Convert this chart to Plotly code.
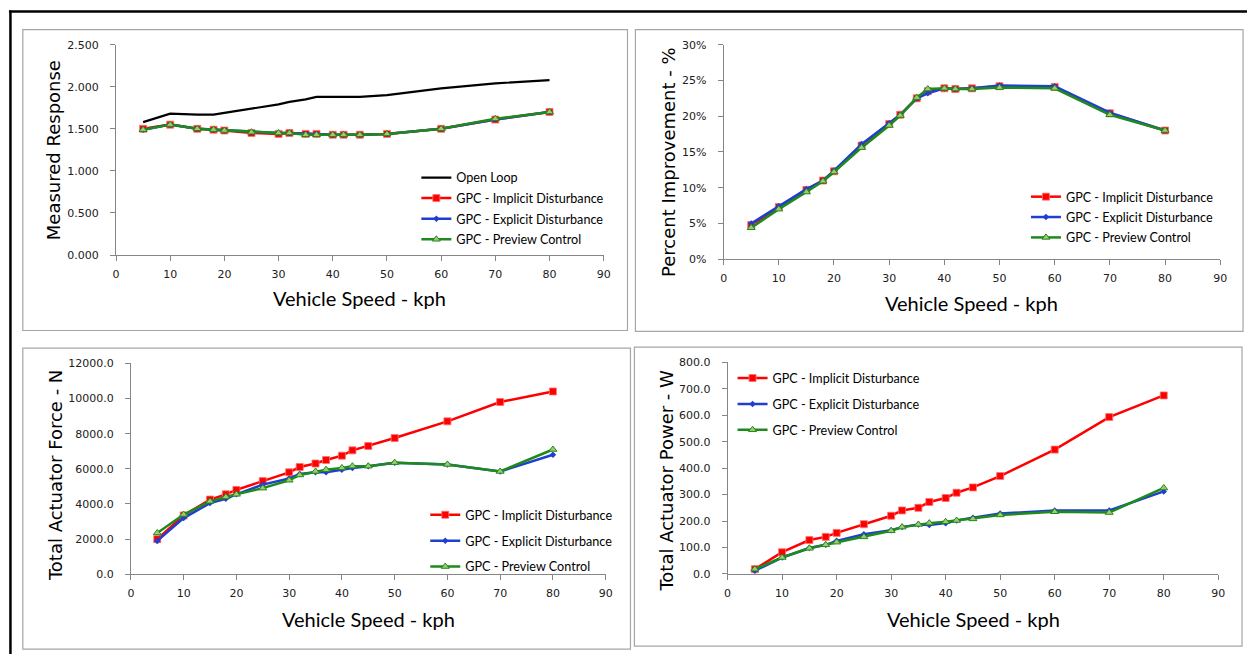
import plotly.graph_objects as go

W, H = 1254, 661

# ---------------- data ----------------
speed = [5, 10, 15, 18, 20, 25, 30, 32, 35, 37, 40, 42, 45, 50, 60, 70, 80]

resp_open = [1.58, 1.68, 1.67, 1.67, 1.69, 1.74, 1.79, 1.82, 1.85, 1.88, 1.88, 1.88, 1.88, 1.90, 1.98, 2.04, 2.08]
resp_implicit = [1.50, 1.55, 1.50, 1.49, 1.48, 1.45, 1.44, 1.45, 1.44, 1.44, 1.43, 1.43, 1.43, 1.44, 1.50, 1.61, 1.70]
resp_explicit = [1.49, 1.55, 1.50, 1.49, 1.48, 1.46, 1.45, 1.45, 1.44, 1.44, 1.43, 1.43, 1.43, 1.44, 1.50, 1.61, 1.70]
resp_preview = [1.49, 1.55, 1.50, 1.49, 1.48, 1.46, 1.45, 1.45, 1.43, 1.43, 1.43, 1.43, 1.43, 1.44, 1.50, 1.62, 1.70]

impr_implicit = [4.8, 7.3, 9.7, 11.0, 12.3, 15.9, 18.9, 20.2, 22.5, 23.5, 23.9, 23.8, 23.9, 24.2, 24.1, 20.4, 18.0]
impr_explicit = [5.0, 7.4, 9.8, 11.0, 12.4, 16.1, 19.0, 20.2, 22.5, 23.2, 23.9, 23.8, 23.9, 24.3, 24.2, 20.5, 18.0]
impr_preview = [4.4, 7.0, 9.4, 10.9, 12.2, 15.6, 18.7, 20.1, 22.6, 23.8, 23.9, 23.8, 23.8, 24.0, 23.9, 20.2, 18.0]

force_implicit = [2000, 3350, 4250, 4550, 4800, 5300, 5800, 6100, 6300, 6500, 6750, 7050, 7300, 7750, 8700, 9800, 10400]
force_explicit = [1900, 3200, 4050, 4300, 4550, 5100, 5450, 5700, 5800, 5800, 5950, 6050, 6150, 6350, 6250, 5850, 6800]
force_preview = [2350, 3400, 4150, 4400, 4550, 4900, 5350, 5650, 5850, 5950, 6050, 6150, 6150, 6350, 6250, 5850, 7100]

power_implicit = [18, 82, 128, 140, 155, 188, 220, 240, 250, 272, 287, 307, 327, 370, 470, 593, 675]
power_explicit = [12, 62, 98, 110, 125, 150, 165, 177, 187, 185, 192, 202, 212, 228, 240, 240, 312]
power_preview = [18, 62, 97, 110, 120, 140, 163, 177, 187, 192, 197, 202, 208, 223, 235, 232, 325]

name_open = "Open Loop"
name_implicit = "GPC - Implicit Disturbance"
name_explicit = "GPC - Explicit Disturbance"
name_preview = "GPC - Preview Control"

x_title = "Vehicle Speed - kph"
y_titles = ["Measured Response", "Percent Improvement - %", "Total Actuator Force - N", "Total Actuator Power - W"]

# ---------------- styles ----------------
RED, BLUE, GREEN = "#FF0000", "#1F3FD0", "#1E8A1E"
AXIS_COL = "#868686"
TICK_FONT = dict(family="DejaVu Sans", size=11, color="#202020")
TITLE_FONT_Y = dict(family="DejaVu Sans", size=18, color="#000000")
TITLE_FONT_X = dict(family="Lato", size=20, color="#000000")
LEG_FONT = dict(family="Lato", size=12.6, color="#000000")


def fx(p):
    return p / W


def fy(p):
    return 1 - p / H


styles = {
    "open": dict(line=dict(color="#000000", width=2.2), mode="lines"),
    "implicit": dict(line=dict(color=RED, width=2.5), mode="lines+markers",
                     marker=dict(symbol="square", size=7, color=RED, line=dict(color="#FF7070", width=0.8))),
    "explicit": dict(line=dict(color=BLUE, width=2.5), mode="lines+markers",
                     marker=dict(symbol="diamond", size=5, color=BLUE)),
    "preview": dict(line=dict(color=GREEN, width=2.5), mode="lines+markers",
                    marker=dict(symbol="triangle-up", size=7, color="#A3C86E", line=dict(color=GREEN, width=1))),
}

# panels: plot-area pixel boxes (left, right, top, bottom)
panels = [
    dict(box=(113, 605, 39.5, 254), yr=[0, 2.5], dtick=0.5, fmt=".3f", suffix="",
         series=[("open", name_open, resp_open), ("implicit", name_implicit, resp_implicit),
                 ("explicit", name_explicit, resp_explicit), ("preview", name_preview, resp_preview)],
         leg=(416, 160, 1.2), ytitle=(50, 147.5), xtitle=(359, 298)),
    dict(box=(726, 1227, 39.5, 258.3), yr=[0, 30], dtick=5, fmt="d", suffix="%",
         series=[("implicit", name_implicit, impr_implicit), ("explicit", name_explicit, impr_explicit),
                 ("preview", name_preview, impr_preview)],
         leg=(1031, 179.5, 1.0), ytitle=(671, 159), xtitle=(976, 303)),
    dict(box=(128, 607, 364.5, 579.7), yr=[0, 12000], dtick=2000, fmt=".1f", suffix="",
         series=[("implicit", name_implicit, force_implicit), ("explicit", name_explicit, force_explicit),
                 ("preview", name_preview, force_preview)],
         leg=(425, 504, 6.5), ytitle=(52, 479), xtitle=(368, 625)),
    dict(box=(730, 1225, 363.5, 579.3), yr=[0, 800], dtick=100, fmt=".1f", suffix="",
         series=[("implicit", name_implicit, power_implicit), ("explicit", name_explicit, power_explicit),
                 ("preview", name_preview, power_preview)],
         leg=(735, 364.5, 6.5), ytitle=(668, 484), xtitle=(978, 625)),
]

fig = go.Figure()
annotations = []
layout_axes = {}

for i, p in enumerate(panels):
    k = "" if i == 0 else str(i + 1)
    legname = "legend" if i == 0 else f"legend{i + 1}"
    l, r, t, b = p["box"]
    for key, nm, vals in p["series"]:
        fig.add_trace(go.Scatter(x=speed, y=vals, name=nm, xaxis="x" + k, yaxis="y" + k,
                                 legend=legname, legendgroup=f"g{i}_{key}", **styles[key]))
    layout_axes["xaxis" + k] = dict(
        domain=[fx(l), fx(r)], anchor="y" + k, range=[0, 90], dtick=10, tick0=0,
        showgrid=False, zeroline=False, showline=True, linecolor=AXIS_COL, linewidth=1,
        ticks="outside", ticklen=5, tickcolor=AXIS_COL, tickfont=TICK_FONT, fixedrange=True,
        ticklabelstandoff=4)
    layout_axes["yaxis" + k] = dict(
        domain=[fy(b), fy(t)], anchor="x" + k, range=p["yr"], dtick=p["dtick"], tick0=0,
        tickformat=p["fmt"], ticksuffix=p["suffix"],
        showgrid=False, zeroline=False, showline=True, linecolor=AXIS_COL, linewidth=1,
        ticks="outside", ticklen=5, tickcolor=AXIS_COL, tickfont=TICK_FONT, fixedrange=True,
        ticklabelstandoff=9)
    lx, ly, gap = p["leg"]
    layout_axes[legname] = dict(x=fx(lx), y=fy(ly), xanchor="left", yanchor="top",
                                bgcolor="rgba(0,0,0,0)", font=LEG_FONT, itemwidth=30,
                                tracegroupgap=gap, traceorder="grouped")
    yt = p["ytitle"]
    annotations.append(dict(text=y_titles[i], x=fx(yt[0]), y=fy(yt[1]), xref="paper", yref="paper",
                            textangle=-90, showarrow=False, font=TITLE_FONT_Y,
                            xanchor="center", yanchor="middle"))
    xt = p["xtitle"]
    annotations.append(dict(text=x_title, x=fx(xt[0]), y=fy(xt[1]), xref="paper", yref="paper",
                            showarrow=False, font=TITLE_FONT_X, xanchor="center", yanchor="middle"))

# frame decorations
shapes = []
box_col = "#A6A6A6"
for (x0, y0, x1, y1) in [(19, 24, 629, 331), (637, 24, 1250, 332), (19, 349, 632, 656), (636, 348, 1249, 653)]:
    shapes.append(dict(type="rect", xref="paper", yref="paper", x0=fx(x0), x1=fx(x1), y0=fy(y1), y1=fy(y0),
                       line=dict(color=box_col, width=1.2), fillcolor="rgba(0,0,0,0)", layer="below"))
shapes.append(dict(type="line", xref="paper", yref="paper", x0=fx(5), x1=fx(1254), y0=fy(5.5), y1=fy(5.5),
                   line=dict(color="#000000", width=2.5)))
shapes.append(dict(type="line", xref="paper", yref="paper", x0=fx(6.5), x1=fx(6.5), y0=fy(4.5), y1=fy(661),
                   line=dict(color="#000000", width=2.5)))

fig.update_layout(
    width=W, height=H, autosize=False,
    margin=dict(l=0, r=0, t=0, b=0),
    paper_bgcolor="white", plot_bgcolor="white",
    showlegend=True, annotations=annotations, shapes=shapes,
    **layout_axes,
)

fig.write_html("out.html", config={"displayModeBar": False})
